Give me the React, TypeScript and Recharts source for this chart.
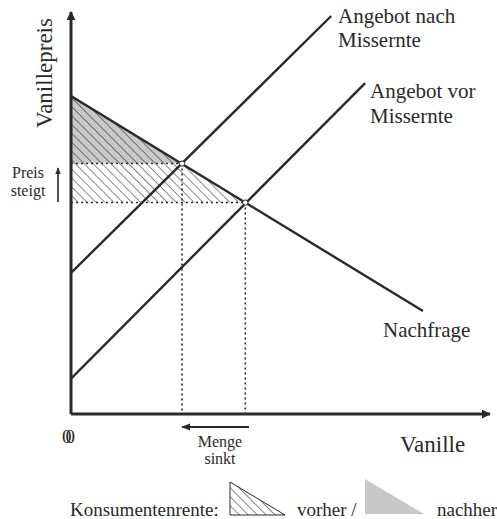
import { ComposedChart, Line, Area, XAxis, YAxis, ReferenceLine, ReferenceDot } from "recharts"

// Nachfrage (Menge -> Preis)
const demandQ = [0, 84]
const demandP = [79.1, 25.6]
// Angebot nach Missernte
const supplyAfterQ = [0, 62.1]
const supplyAfterP = [35.1, 99.0]
// Angebot vor Missernte
const supplyBeforeQ = [0, 70.2]
const supplyBeforeP = [8.8, 82.3]
// Gleichgewichte
const eqAfterQ = 26.5
const eqAfterP = 62.3
const eqBeforeQ = 41.6
const eqBeforeP = 52.6
// Achsenbereich
const qMax = 100
const pMax = 100

const toPoints = (qs: number[], ps: number[]) => qs.map((q, i) => ({ q, p: ps[i] }))

const demand = toPoints(demandQ, demandP)
const supplyAfter = toPoints(supplyAfterQ, supplyAfterP)
const supplyBefore = toPoints(supplyBeforeQ, supplyBeforeP)
const surplusBefore = toPoints([0, eqBeforeQ], [demandP[0], eqBeforeP])
const surplusAfter = toPoints([0, eqAfterQ], [demandP[0], eqAfterP])

const ink = "#2a2a2a"
const font = "'Liberation Serif', 'Times New Roman', serif"

export default function App() {
    return (
        <div style={{ position: "absolute", left: 0, top: 0, background: "#fff" }}>
            <ComposedChart
                width={497}
                height={519}
                margin={{ top: 12, right: 7, left: 71, bottom: 105 }}
                style={{ fontFamily: font }}
            >
                <defs>
                    <pattern id="hatch" patternUnits="userSpaceOnUse" width={6.3} height={6.3} patternTransform="rotate(-45)">
                        <line x1={0} y1={0} x2={0} y2={6.3} stroke={ink} strokeWidth={1.1} />
                    </pattern>
                    <marker id="arrowHead" viewBox="0 0 10 10" refX={9} refY={5} markerWidth={3} markerHeight={3} orient="auto">
                        <path d="M0,0 L10,5 L0,10 z" fill={ink} />
                    </marker>
                    <marker id="smallArrow" viewBox="0 0 10 10" refX={9} refY={5} markerWidth={4.5} markerHeight={4.5} orient="auto">
                        <path d="M0,1 L10,5 L0,9 z" fill={ink} />
                    </marker>
                </defs>
                <XAxis dataKey="q" type="number" domain={[0, qMax]} allowDataOverflow hide />
                <YAxis dataKey="p" type="number" domain={[0, pMax]} allowDataOverflow hide />
                <Area data={surplusAfter} dataKey="p" type="linear" baseValue={eqAfterP} fill="#c8c8c8" fillOpacity={1} stroke="none" isAnimationActive={false} />
                <Area data={surplusBefore} dataKey="p" type="linear" baseValue={eqBeforeP} fill="url(#hatch)" fillOpacity={1} stroke="none" isAnimationActive={false} />
                <ReferenceLine segment={[{ x: 0, y: eqAfterP }, { x: eqAfterQ, y: eqAfterP }]} stroke={ink} strokeWidth={1.6} strokeDasharray="2 3" />
                <ReferenceLine segment={[{ x: 0, y: eqBeforeP }, { x: eqBeforeQ, y: eqBeforeP }]} stroke={ink} strokeWidth={1.6} strokeDasharray="2 3" />
                <ReferenceLine segment={[{ x: eqAfterQ, y: eqAfterP }, { x: eqAfterQ, y: 0 }]} stroke={ink} strokeWidth={1.6} strokeDasharray="2 3" />
                <ReferenceLine segment={[{ x: eqBeforeQ, y: eqBeforeP }, { x: eqBeforeQ, y: 0 }]} stroke={ink} strokeWidth={1.6} strokeDasharray="2 3" />
                <Line data={demand} dataKey="p" type="linear" stroke={ink} strokeWidth={2.4} dot={false} isAnimationActive={false} />
                <Line data={supplyAfter} dataKey="p" type="linear" stroke={ink} strokeWidth={2.4} dot={false} isAnimationActive={false} />
                <Line data={supplyBefore} dataKey="p" type="linear" stroke={ink} strokeWidth={2.4} dot={false} isAnimationActive={false} />
                <ReferenceLine segment={[{ x: 0, y: 0 }, { x: qMax, y: 0 }]} stroke={ink} strokeWidth={3} ifOverflow="visible" markerEnd="url(#arrowHead)" />
                <ReferenceLine segment={[{ x: 0, y: 0 }, { x: 0, y: pMax }]} stroke={ink} strokeWidth={3} ifOverflow="visible" markerEnd="url(#arrowHead)" />
                <ReferenceDot x={eqAfterQ} y={eqAfterP} r={2.6} fill="#fff" stroke={ink} strokeWidth={1} />
                <ReferenceDot x={eqBeforeQ} y={eqBeforeP} r={2.6} fill="#fff" stroke={ink} strokeWidth={1} />

                <text x={52} y={73} transform="rotate(-90, 52, 73)" textAnchor="middle" fontSize={23} fill={ink}>Vanillepreis</text>
                <text x={28} y={178} textAnchor="middle" fontSize={16} fill={ink}>Preis</text>
                <text x={28} y={196} textAnchor="middle" fontSize={16} fill={ink}>steigt</text>
                <line x1={58} y1={202} x2={58} y2={168} stroke={ink} strokeWidth={1.6} markerEnd="url(#smallArrow)" />
                <text x={62} y={443} fontSize={19} fill={ink} letterSpacing={-6}>00</text>
                <line x1={249} y1={427} x2={182} y2={427} stroke={ink} strokeWidth={2} markerEnd="url(#smallArrow)" />
                <text x={220} y={447} textAnchor="middle" fontSize={16} fill={ink}>Menge</text>
                <text x={220} y={464} textAnchor="middle" fontSize={16} fill={ink}>sinkt</text>
                <text x={400} y={452} fontSize={23} fill={ink}>Vanille</text>
                <text x={383} y={337} fontSize={21} fill={ink}>Nachfrage</text>
                <text x={338} y={23} fontSize={21} fill={ink}>Angebot nach</text>
                <text x={338} y={47} fontSize={21} fill={ink}>Missernte</text>
                <text x={370} y={98} fontSize={21} fill={ink}>Angebot vor</text>
                <text x={370} y={123} fontSize={21} fill={ink}>Missernte</text>

                <g>
                    <text x={70} y={516} fontSize={19} fill={ink}>Konsumentenrente:</text>
                    <polygon points="230,482 285,515 230,515" fill="url(#hatch)" stroke={ink} strokeWidth={1} />
                    <text x={297} y={516} fontSize={19} fill={ink}>vorher /</text>
                    <polygon points="365,479 424,514 365,514" fill="#c8c8c8" />
                    <text x={437} y={516} fontSize={19} fill={ink}>nachher</text>
                </g>
            </ComposedChart>
        </div>
    )
}
